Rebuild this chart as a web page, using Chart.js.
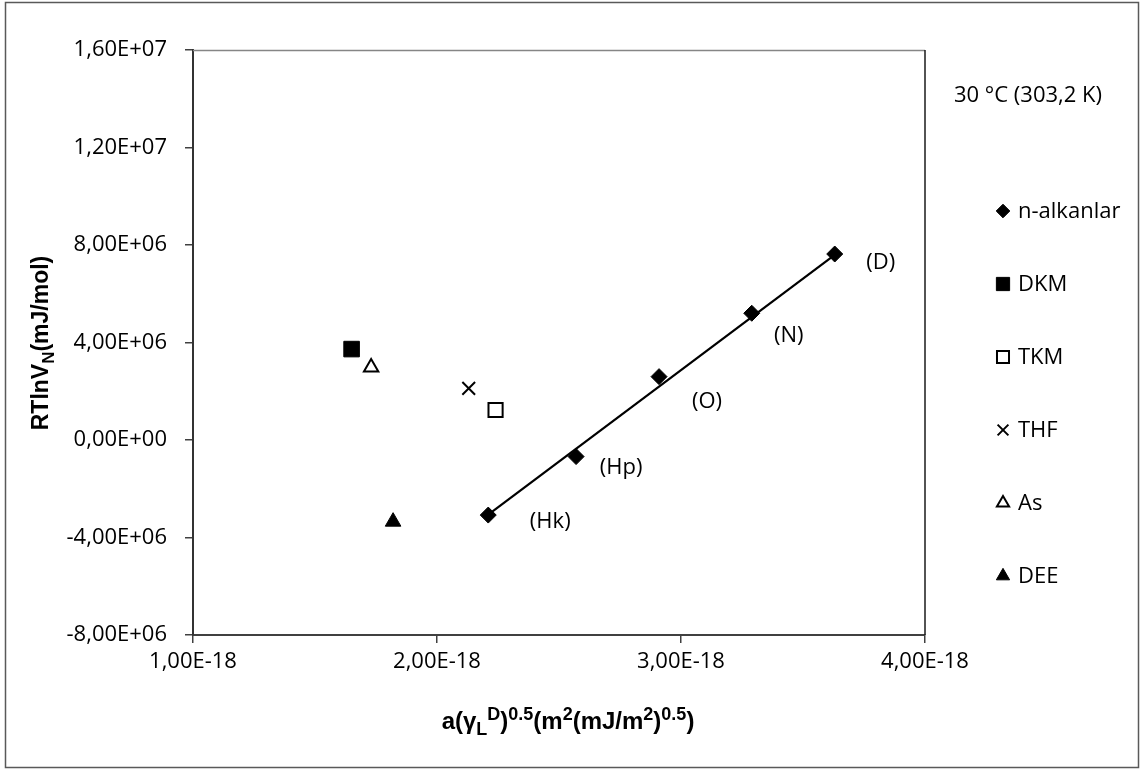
<!DOCTYPE html>
<html><head><meta charset="utf-8">
<script src="https://cdn.jsdelivr.net/npm/chart.js@4/dist/chart.umd.min.js"></script>
<style>html,body{margin:0;padding:0;background:#fff}#wrap{width:1140px;height:769px;position:relative}canvas{display:block}</style>
</head><body><div id="wrap"><canvas id="c" width="1140" height="769"></canvas></div>
<script>
// ---- data ----
const alkaneX = [2.21e-18, 2.57e-18, 2.91e-18, 3.29e-18, 3.63e-18];
const alkaneY = [-3.08e6, -0.68e6, 2.60e6, 5.20e6, 7.63e6];
const alkaneNames = ['(Hk)', '(Hp)', '(O)', '(N)', '(D)'];
const polarNames = ['DKM', 'TKM', 'THF', 'As', 'DEE'];
const polarX = [1.65e-18, 2.24e-18, 2.13e-18, 1.73e-18, 1.82e-18];
const polarY = [3.73e6, 1.23e6, 2.12e6, 2.98e6, -3.35e6];
const trendX = [2.21e-18, 3.63e-18];
const trendY = [-3.06e6, 7.59e6];
const xTickValues = [1e-18, 2e-18, 3e-18, 4e-18];
const xTickLabels = ['1,00E-18', '2,00E-18', '3,00E-18', '4,00E-18'];
const yTickValues = [-8e6, -4e6, 0, 4e6, 8e6, 12e6, 16e6];
const yTickLabels = ['-8,00E+06', '-4,00E+06', '0,00E+00', '4,00E+06', '8,00E+06', '1,20E+07', '1,60E+07'];
const seriesTitle = '30 °C (303,2 K)';
const legendName0 = 'n-alkanlar';

// ---- styles ----
const FONT = "'Open Sans', sans-serif";
const TFONT = "'Liberation Sans', Arial, sans-serif";
const FS = 22;
const labelOffsets = [[62, 7], [45, 11], [48, 25], [37, 22], [46, 9]];
const polarStyles = [
  {pointStyle: 'rect', radius: 11, bg: '#000', bc: '#000', bw: 1},
  {pointStyle: 'rect', radius: 10, bg: '#fff', bc: '#000', bw: 2},
  {pointStyle: 'crossRot', radius: 9, bg: '#000', bc: '#000', bw: 2},
  {pointStyle: 'triangle', radius: 8.3, bg: '#fff', bc: '#000', bw: 2},
  {pointStyle: 'triangle', radius: 9, bg: '#000', bc: '#000', bw: 1}
];

const datasets = [{
  label: legendName0,
  data: alkaneX.map((x, i) => ({x: x, y: alkaneY[i]})),
  pointStyle: 'rectRot', pointRadius: 8, backgroundColor: '#000', borderColor: '#000', borderWidth: 1,
  showLine: false, order: 1
}];
polarNames.forEach((n, i) => {
  const s = polarStyles[i];
  datasets.push({
    label: n, data: [{x: polarX[i], y: polarY[i]}],
    pointStyle: s.pointStyle, pointRadius: s.radius, backgroundColor: s.bg, borderColor: s.bc, borderWidth: s.bw,
    showLine: false, order: 1
  });
});
datasets.push({
  label: 'trend', data: trendX.map((x, i) => ({x: x, y: trendY[i]})),
  showLine: true, borderColor: '#000', borderWidth: 2.2, pointRadius: 0, order: 2, isTrend: true
});

function drawRich(ctx, segs, size, cx, cy, supRatio) {
  let total = 0;
  const parts = segs.map(s => {
    const fs = s[1] === 'n' ? size : Math.round(size * supRatio);
    ctx.font = 'bold ' + fs + 'px ' + TFONT;
    const w = ctx.measureText(s[0]).width;
    total += w;
    return {t: s[0], fs: fs, w: w, dy: s[1] === 'sub' ? size * 0.25 : (s[1] === 'sup' ? -size * 0.36 : 0)};
  });
  let x = cx - total / 2;
  ctx.textAlign = 'left';
  ctx.textBaseline = 'alphabetic';
  parts.forEach(p => {
    ctx.font = 'bold ' + p.fs + 'px ' + TFONT;
    ctx.fillText(p.t, x, cy + p.dy);
    x += p.w;
  });
}

const decoPlugin = {
  id: 'deco',
  beforeDraw(chart) {
    const ctx = chart.ctx;
    ctx.save();
    ctx.fillStyle = '#fff';
    ctx.fillRect(0, 0, chart.width, chart.height);
    ctx.strokeStyle = '#595959';
    ctx.lineWidth = 1.5;
    ctx.strokeRect(5.5, 2.5, 1133, 765);
    ctx.restore();
  },
  afterDraw(chart) {
    const ctx = chart.ctx;
    const a = chart.chartArea;
    const xs = chart.scales.x, ys = chart.scales.y;
    ctx.save();
    ctx.lineWidth = 1.5;
    ctx.strokeStyle = '#868686';
    ctx.beginPath(); ctx.moveTo(a.left, a.top + 0.5); ctx.lineTo(a.right, a.top + 0.5); ctx.stroke();
    ctx.strokeStyle = '#1a1a1a';
    ctx.beginPath(); ctx.moveTo(a.right, a.top); ctx.lineTo(a.right, a.bottom); ctx.stroke();
    // point labels
    ctx.fillStyle = '#000';
    ctx.font = FS + 'px ' + FONT;
    ctx.textAlign = 'center';
    ctx.textBaseline = 'middle';
    alkaneNames.forEach((n, i) => {
      const px = xs.getPixelForValue(alkaneX[i]), py = ys.getPixelForValue(alkaneY[i]);
      ctx.fillText(n, px + labelOffsets[i][0], py + labelOffsets[i][1]);
    });
    // series title + legend
    ctx.textAlign = 'left';
    ctx.fillText(seriesTitle, 954, 96);
    const legY0 = 211, legStep = 73;
    chart.data.datasets.forEach((ds, i) => {
      if (ds.isTrend) return;
      const y = legY0 + i * legStep;
      ctx.save();
      ctx.fillStyle = ds.backgroundColor;
      ctx.strokeStyle = ds.borderColor;
      ctx.lineWidth = ds.borderWidth;
      Chart.helpers.drawPoint(ctx, {pointStyle: ds.pointStyle, radius: ds.pointRadius * 0.85, borderWidth: ds.borderWidth}, 1003, y);
      ctx.restore();
      ctx.fillStyle = '#000';
      ctx.fillText(ds.label, 1018, y + 1);
    });
    // axis titles
    ctx.fillStyle = '#000';
    drawRich(ctx, [['a(γ', 'n'], ['L', 'sub'], ['D', 'sup'], [')', 'n'], ['0.5', 'sup'], ['(m', 'n'], ['2', 'sup'], ['(mJ/m', 'n'], ['2', 'sup'], [')', 'n'], ['0.5', 'sup'], [')', 'n']], 24, 568, 729, 0.76);
    ctx.save();
    ctx.translate(48, 343);
    ctx.rotate(-Math.PI / 2);
    drawRich(ctx, [['RTlnV', 'n'], ['N', 'sub'], ['(mJ/mol)', 'n']], 23, 0, 0, 0.72);
    ctx.restore();
    ctx.restore();
  }
};

new Chart(document.getElementById('c'), {
  type: 'scatter',
  data: {datasets: datasets},
  options: {
    responsive: false, animation: false, devicePixelRatio: 1,
    layout: {padding: {left: 0, right: 215, top: 50, bottom: 0}},
    plugins: {legend: {display: false}, tooltip: {enabled: false}},
    scales: {
      x: {
        type: 'linear', min: 1e-18, max: 4e-18,
        afterBuildTicks: s => { s.ticks = xTickValues.map(v => ({value: v})); },
        afterFit: s => { s.height = 134; },
        ticks: {callback: (v, i) => xTickLabels[i], color: '#000', font: {family: FONT, size: FS}, padding: 6, maxRotation: 0},
        grid: {drawOnChartArea: false, drawTicks: true, tickLength: 8, color: '#404040', lineWidth: 1.5},
        border: {display: true, color: '#404040', width: 2}
      },
      y: {
        type: 'linear', min: -8e6, max: 16e6,
        afterBuildTicks: s => { s.ticks = yTickValues.map(v => ({value: v})); },
        afterFit: s => { s.width = 193; },
        ticks: {callback: (v, i) => yTickLabels[i], color: '#000', font: {family: FONT, size: FS}, padding: 18},
        grid: {drawOnChartArea: false, drawTicks: true, tickLength: 8, color: '#404040', lineWidth: 1.5},
        border: {display: true, color: '#333', width: 2}
      }
    }
  },
  plugins: [decoPlugin]
});
</script></body></html>
